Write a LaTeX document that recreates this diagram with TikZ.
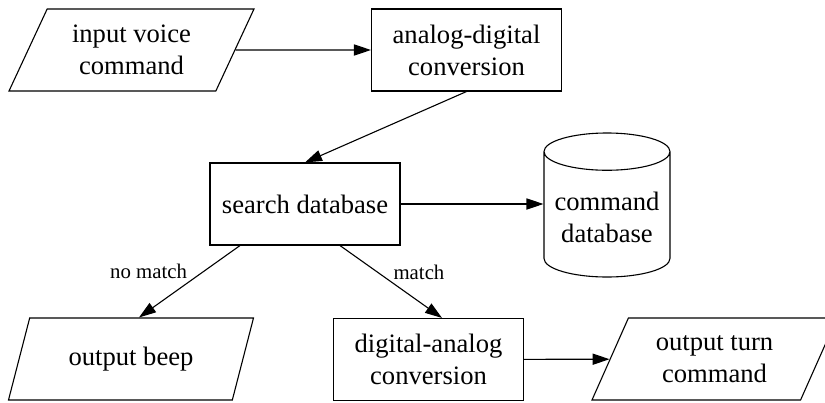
\documentclass[tikz,border=0pt]{standalone}
\usepackage{fontspec}
\setmainfont{Liberation Serif}
\usetikzlibrary{arrows.meta,calc,shapes.geometric}
\tikzset{>={Triangle[length=8.5pt,width=5.6pt]},
  box/.style={draw,rectangle,minimum width=95pt,minimum height=41pt,align=center,inner sep=2pt},
  io/.style={draw,trapezium,trapezium left angle=56.6,trapezium right angle=123.4,trapezium stretches body,minimum width=122.5pt,minimum height=41pt,align=center,inner sep=2pt},
  store/.style={draw,cylinder,shape border rotate=90,aspect=0.33,minimum width=63pt,minimum height=72pt,align=center,inner sep=2pt,anchor=shape center},
  arr/.style={->,line width=0.55pt},
  edgelabel/.style={font=\fontsize{10.4}{12}\selectfont,inner sep=1pt}}

\begin{document}
\begin{tikzpicture}[x=0.5pt,y=-0.5pt,line width=0.55pt,font=\fontsize{13.3}{16}\selectfont]
\useasboundingbox (0,0) rectangle (825,402);
\node[io] (voice) at (131.5,50) {input voice\\command};
\node[box] (adc) at (466.5,50) {analog-digital\\conversion};
\node[box] (search) at (305,204) {search database};
\node[store] (db) at (607,205) {command\\database};
\node[io] (beep) at (131,359) {output beep};
\node[box] (dac) at (428.5,359.5) {digital-analog\\conversion};
\node[io] (turn) at (714.5,359) {output turn\\command};

\draw[arr] (voice) -- (adc);
\draw[arr] (adc.south) -- (search.north);
\draw[arr] (search.east) -- (search.east -| db.west);
\draw[arr] ($(search.south)+(-65,0)$) -- node[edgelabel,above left]{no match} ($(beep.north)+(8,0)$);
\draw[arr] ($(search.south)+(35,0)$) -- node[edgelabel,above right]{match} ($(dac.north)+(13.5,0)$);
\draw[arr] (dac) -- (turn);
\end{tikzpicture}
\end{document}
